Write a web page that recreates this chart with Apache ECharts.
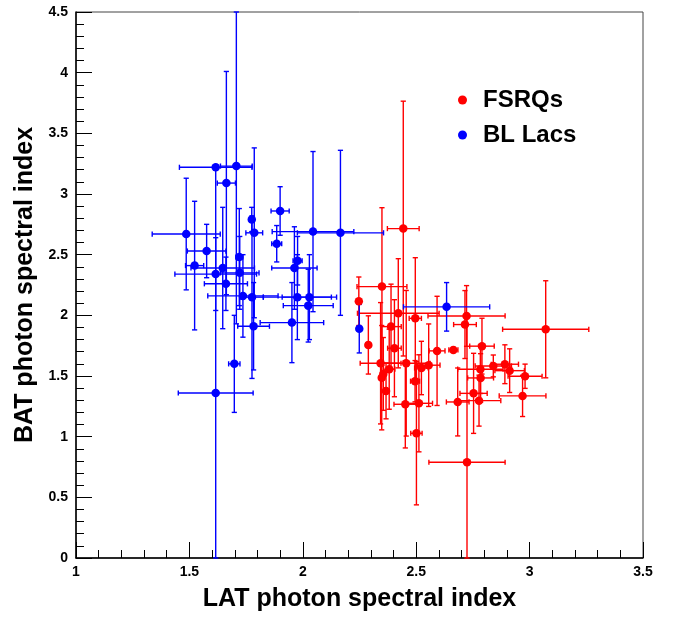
<!DOCTYPE html>
<html><head><meta charset="utf-8">
<script src="https://cdn.jsdelivr.net/npm/echarts@6/dist/echarts.min.js"></script>
<style>html,body{margin:0;padding:0;background:#fff}#c{width:680px;height:618px}</style>
</head><body><div id="c"></div>
<script>
// FSRQs
const fsrqX    = [2.443,2.349,2.247,2.421,2.389,2.496,2.722,2.715,2.289,2.404,2.592,2.664,2.343,2.456,2.381,2.555,2.523,2.355,2.348,2.495,2.367,2.452,2.512,2.683,2.501,2.724,2.753,2.777,3.071,2.790,2.783,2.840,2.891,2.912,2.784,2.980,2.969];
const fsrqY    = [2.715,2.237,2.116,2.017,1.907,1.975,1.995,1.924,1.756,1.729,1.707,1.715,1.605,1.605,1.556,1.589,1.566,1.517,1.486,1.457,1.377,1.267,1.275,1.286,1.028,0.789,1.357,1.297,1.885,1.746,1.556,1.583,1.597,1.544,1.484,1.498,1.336];
const fsrqXErr = [0.07,0.11,0.01,0.18,0.045,0.027,0.17,0.05,0.01,0.03,0.035,0.02,0.09,0.105,0.025,0.05,0.03,0.01,0.01,0.02,0.01,0.05,0.06,0.05,0.025,0.168,0.06,0.096,0.19,0.054,0.1,0.08,0.06,0.065,0.057,0.075,0.103];
const fsrqYErr = [1.05,0.65,0.2,0.45,0.35,0.5,0.25,0.28,0.24,0.4,0.45,0.02,0.5,0.6,0.33,0.34,0.22,0.3,0.43,0.17,0.23,0.36,0.4,0.28,0.59,1.21,0.33,0.21,0.4,0.23,0.2,0.09,0.16,0.18,0.2,0.1,0.17];
// BL Lacs
const bllacX    = [1.486,1.616,1.707,1.663,1.900,1.786,1.775,1.885,1.576,1.523,1.647,1.616,1.720,1.722,1.661,1.736,1.776,1.783,1.698,1.616,2.045,2.166,1.977,1.963,1.976,2.029,2.024,1.952,2.249,2.634];
const bllacY    = [2.67,3.22,3.23,3.09,2.86,2.68,2.79,2.59,2.53,2.41,2.39,2.34,2.48,2.35,2.26,2.16,2.15,1.91,1.60,1.36,2.69,2.68,2.45,2.39,2.15,2.15,2.08,1.94,1.89,2.07];
const bllacXErr = [0.15,0.16,0.07,0.04,0.04,0.037,0.01,0.022,0.085,0.04,0.14,0.18,0.015,0.085,0.095,0.155,0.05,0.07,0.025,0.165,0.18,0.19,0.02,0.10,0.15,0.12,0.11,0.14,0.01,0.19];
const bllacYErr = [0.46,0,1.3,0.92,0.2,0.7,0.1,0.15,0.22,0.53,0.5,0.3,0.4,0.3,0.22,0.34,0.67,0.36,0.4,1.86,0.66,0.68,0.2,0.34,0.35,0.35,0.3,0.33,0.2,0.2];

const seriesNames = ['FSRQs','BL Lacs'];
const colors = ['#ff0000','#0000ff'];
const xTickMin = 1, xTickMax = 3.5, yTickMin = 0, yTickMax = 4.5;

function rows(xs, ys, exs, eys){ return xs.map((x,i)=>[x, ys[i], exs[i], eys[i]]); }
const fsrqData = rows(fsrqX, fsrqY, fsrqXErr, fsrqYErr);
const bllacData = rows(bllacX, bllacY, bllacXErr, bllacYErr);

function makeErr(color){
  return function(params, api){
    const x = api.value(0), y = api.value(1), ex = api.value(2), ey = api.value(3);
    const cs = params.coordSys;
    const x0 = cs.x, x1 = cs.x + cs.width, y0 = cs.y, y1 = cs.y + cs.height;
    const cx = v => Math.max(x0, Math.min(x1, v));
    const cy = v => Math.max(y0, Math.min(y1, v));
    const c = api.coord([x, y]);
    const st = {stroke: color, lineWidth: 1.4};
    const cap = 2.6;
    const ch = [];
    if (ex > 0) {
      const l = cx(api.coord([x - ex, y])[0]), r = cx(api.coord([x + ex, y])[0]);
      ch.push({type:'line', shape:{x1:l, y1:c[1], x2:r, y2:c[1]}, style:st});
      ch.push({type:'line', shape:{x1:l, y1:c[1]-cap, x2:l, y2:c[1]+cap}, style:st});
      ch.push({type:'line', shape:{x1:r, y1:c[1]-cap, x2:r, y2:c[1]+cap}, style:st});
    }
    if (ey > 0) {
      const t = cy(api.coord([x, y + ey])[1]), b = cy(api.coord([x, y - ey])[1]);
      ch.push({type:'line', shape:{x1:c[0], y1:t, x2:c[0], y2:b}, style:st});
      ch.push({type:'line', shape:{x1:c[0]-cap, y1:t, x2:c[0]+cap, y2:t}, style:st});
      ch.push({type:'line', shape:{x1:c[0]-cap, y1:b, x2:c[0]+cap, y2:b}, style:st});
    }
    return {type:'group', children: ch};
  };
}

const font = 'Liberation Sans, Arial, Helvetica, sans-serif';
const chart = echarts.init(document.getElementById('c'), null, {renderer:'canvas'});
chart.setOption({
  backgroundColor:'#fff',
  animation:false,
  grid:{left:76, top:12, right:37, bottom:60, show:true, borderColor:'#444', borderWidth:1, backgroundColor:'transparent'},
  legend:{
    orient:'vertical', left:453, top:83, itemWidth:9, itemHeight:9, itemGap:11,
    data:[{name:seriesNames[0], icon:'circle'},{name:seriesNames[1], icon:'circle'}],
    textStyle:{fontFamily:font, fontWeight:'bold', fontSize:24, color:'#000', padding:[0,0,0,11]}
  },
  xAxis:{
    type:'value', min:xTickMin, max:xTickMax, interval:0.5,
    name:'LAT photon spectral index', nameLocation:'middle', nameGap:29,
    nameTextStyle:{fontFamily:font, fontWeight:'bold', fontSize:25, color:'#000'},
    axisLine:{lineStyle:{color:'#000', width:1.5}},
    axisTick:{inside:true, length:16, lineStyle:{color:'#000', width:1}},
    minorTick:{show:true, splitNumber:5, length:8, lineStyle:{color:'#000', width:1}},
    axisLabel:{fontFamily:font, fontWeight:'bold', fontSize:14, color:'#000', margin:7},
    splitLine:{show:false}
  },
  yAxis:{
    type:'value', min:yTickMin, max:yTickMax, interval:0.5,
    name:'BAT photon spectral index', nameLocation:'middle', nameGap:36,
    nameTextStyle:{fontFamily:font, fontWeight:'bold', fontSize:25, color:'#000'},
    axisLine:{lineStyle:{color:'#000', width:1.5}},
    axisTick:{inside:true, length:16, lineStyle:{color:'#000', width:1}},
    minorTick:{show:true, splitNumber:5, length:8, lineStyle:{color:'#000', width:1}},
    axisLabel:{fontFamily:font, fontWeight:'bold', fontSize:14, color:'#000', margin:8},
    splitLine:{show:false}
  },
  series:[
    {type:'custom', name:seriesNames[0], data:fsrqData, renderItem:makeErr(colors[0]), itemStyle:{color:colors[0]}, encode:{x:0,y:1}, z:2},
    {type:'custom', name:seriesNames[1], data:bllacData, renderItem:makeErr(colors[1]), itemStyle:{color:colors[1]}, encode:{x:0,y:1}, z:2},
    {type:'scatter', name:seriesNames[0], data:fsrqData, symbol:'circle', symbolSize:8.5, itemStyle:{color:colors[0], opacity:1}, encode:{x:0,y:1}, z:3},
    {type:'scatter', name:seriesNames[1], data:bllacData, symbol:'circle', symbolSize:8.5, itemStyle:{color:colors[1], opacity:1}, encode:{x:0,y:1}, z:3}
  ]
});
</script></body></html>
